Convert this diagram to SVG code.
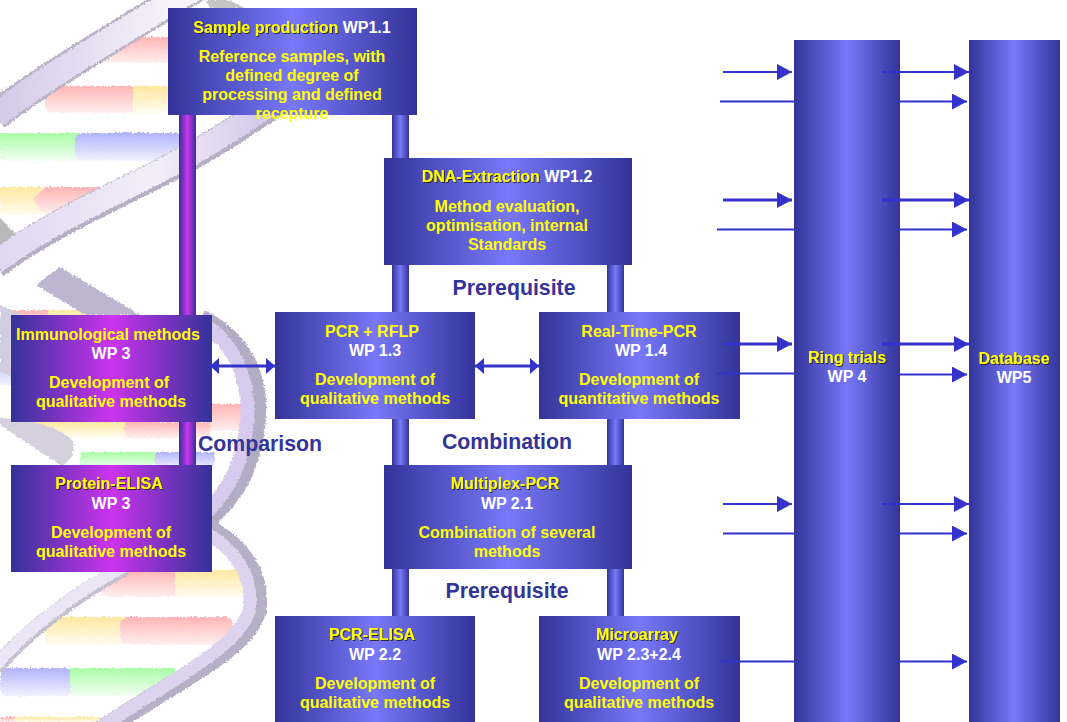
<svg xmlns="http://www.w3.org/2000/svg" width="1067" height="722" viewBox="0 0 1067 722">
<style>
text{font-family:"Liberation Sans",Arial,sans-serif;font-weight:bold;font-size:16px;text-anchor:middle}
.y{fill:#ffff00}.w{fill:#ffffff}.t{fill:#ffff00;filter:url(#sh)}
.lab{fill:#333399;font-size:21.3px}
.blue{fill:url(#gb)}.pur{fill:url(#gp)}
.ln{stroke:#3333cc;fill:none}
.r{fill:url(#fr)}.e{fill:url(#fy)}.g{fill:url(#fg)}.b{fill:url(#fb)}
</style>
<defs>
<linearGradient id="gb"><stop offset="0" stop-color="#333399"/><stop offset=".5" stop-color="#7878fa"/><stop offset="1" stop-color="#333399"/></linearGradient>
<linearGradient id="gp"><stop offset="0" stop-color="#333399"/><stop offset=".5" stop-color="#cc33ee"/><stop offset="1" stop-color="#333399"/></linearGradient>
<linearGradient id="fr" x1="0" y1="0" x2="0" y2="1"><stop offset="0" stop-color="#ffb4b4"/><stop offset="1" stop-color="#fff0f0"/></linearGradient>
<linearGradient id="fy" x1="0" y1="0" x2="0" y2="1"><stop offset="0" stop-color="#ffe8a0"/><stop offset="1" stop-color="#fffcf0"/></linearGradient>
<linearGradient id="fg" x1="0" y1="0" x2="0" y2="1"><stop offset="0" stop-color="#a8fca8"/><stop offset="1" stop-color="#f2fff2"/></linearGradient>
<linearGradient id="fb" x1="0" y1="0" x2="0" y2="1"><stop offset="0" stop-color="#b0b4fa"/><stop offset="1" stop-color="#f2f2ff"/></linearGradient>
<linearGradient id="s1" gradientUnits="userSpaceOnUse" x1="0" y1="0" x2="170" y2="0"><stop offset="0" stop-color="#d4cae8"/><stop offset="1" stop-color="#f6f3fb"/></linearGradient>
<linearGradient id="s2" gradientUnits="userSpaceOnUse" x1="0" y1="0" x2="260" y2="0"><stop offset="0" stop-color="#e0d8f0"/><stop offset=".6" stop-color="#f2eef9"/><stop offset="1" stop-color="#d6cbea"/></linearGradient>
<filter id="sh" x="-5%" y="-20%" width="110%" height="140%"><feDropShadow dx="1" dy="1" stdDeviation="0.3" flood-color="#222" flood-opacity=".85"/></filter>
<filter id="rough" x="-5%" y="-5%" width="110%" height="110%"><feTurbulence type="fractalNoise" baseFrequency=".5" numOctaves="2" seed="4"/><feDisplacementMap in="SourceGraphic" scale="4" xChannelSelector="R" yChannelSelector="G"/><feGaussianBlur stdDeviation=".5"/></filter>
<marker id="a" markerUnits="userSpaceOnUse" markerWidth="16" markerHeight="16" refX="15" refY="8" orient="auto"><path d="M0 0L15 8L0 16z" fill="#3333cc"/></marker>
<marker id="d" markerUnits="userSpaceOnUse" markerWidth="10" markerHeight="16" refX="9" refY="8" orient="auto-start-reverse"><path d="M0 0L9 8L0 16z" fill="#3333cc"/></marker>
</defs>

<g id="background">
<g filter="url(#rough)">
<rect x="100" y="37" width="75" height="26" class="r"/>
<rect x="45" y="86" width="93" height="27" rx="8" class="r"/><rect x="133" y="86" width="40" height="27" class="e"/>
<rect x="0" y="133" width="80" height="28" class="g"/><rect x="75" y="133" width="108" height="28" rx="8" class="b"/>
<rect x="0" y="187" width="42" height="28" class="e"/><path d="M33 200L45 187H108V215H45z" class="r"/>
<rect x="45" y="310" width="85" height="16" class="e"/><rect x="0" y="310" width="48" height="18" class="r"/>
<rect x="0" y="355" width="15" height="30" class="b"/>
<rect x="205" y="404" width="40" height="27" class="r"/><rect x="15" y="422" width="110" height="16" class="e"/><rect x="125" y="422" width="85" height="16" class="r"/>
<rect x="80" y="452" width="76" height="16" class="g"/><rect x="155" y="452" width="60" height="16" class="b"/>
<rect x="100" y="570" width="80" height="27" rx="8" class="r"/><rect x="175" y="570" width="68" height="27" class="e"/>
<rect x="45" y="617" width="82" height="28" class="e"/><rect x="120" y="617" width="113" height="28" rx="8" class="r"/>
<rect x="0" y="668" width="73" height="28" rx="8" class="b"/><rect x="70" y="668" width="105" height="28" class="g"/>
<rect x="0" y="717" width="15" height="5" class="r"/><rect x="15" y="717" width="85" height="5" class="e"/>
<path d="M0 218L18 236L0 250z" fill="#b9b9b9"/>
<path d="M36 285L60 267L140 315H85z" fill="#bdb6d0"/>
<path d="M205 0H228L245 8H210z" fill="#c4c4c4"/>
<path d="M0 305Q60 330 85 365T70 405Q40 395 0 370z" fill="#d2cde0"/>
<path d="M0 418Q50 420 72 440Q78 455 62 466Q30 445 0 425z" fill="#d4d0de"/>
<g fill="none">
<path d="M-5 116C30 88 95 48 215 -24" stroke="#b9b2c6" stroke-width="30"/>
<path d="M-5 116C30 88 95 48 215 -24" stroke="url(#s1)" stroke-width="25"/>
<path d="M-5 265C50 222 140 186 197 153S270 105 340 60" stroke="#b5aec4" stroke-width="28"/>
<path d="M-5 263C50 220 140 184 197 151S270 103 340 58" stroke="url(#s2)" stroke-width="23"/>
<path d="M200 320C240 340 258 375 255 420C250 470 232 495 205 520" stroke="#b3acc5" stroke-width="22"/>
<path d="M200 322C234 342 250 378 247 420C243 468 226 492 205 514" stroke="#d6cbec" stroke-width="14"/>
<path d="M205 528C240 545 262 575 256 612C245 650 175 680 90 738" stroke="#b6b0c6" stroke-width="20"/>
<path d="M203 532C236 548 254 578 249 611C238 648 170 680 85 738" stroke="#ddd3ef" stroke-width="13"/>
<path d="M-5 668C30 628 75 595 125 568" stroke="#c5bfcf" stroke-width="16"/>
<path d="M-5 666C30 626 75 593 125 566" stroke="#ebe6f5" stroke-width="12"/>
</g>
</g>
</g>

<g id="bars">
<rect x="179" y="115" width="17" height="200" class="pur"/><rect x="179" y="422" width="17" height="43" class="pur"/>
<rect x="392" y="115" width="17" height="43" class="blue"/><rect x="392" y="265" width="17" height="47" class="blue"/><rect x="392" y="419" width="17" height="46" class="blue"/><rect x="392" y="569" width="17" height="47" class="blue"/>
<rect x="607" y="265" width="17" height="47" class="blue"/><rect x="607" y="419" width="17" height="46" class="blue"/><rect x="607" y="569" width="17" height="47" class="blue"/>
</g>

<g id="node-sample"><rect x="168" y="8" width="249" height="107" class="blue"/>
<text x="292" y="33"><tspan class="t">Sample production</tspan><tspan class="w"> WP1.1</tspan></text>
<text x="292" y="62" class="y">Reference samples, with</text><text x="292" y="81" class="y">defined degree of</text><text x="292" y="100" class="y">processing and defined</text><text x="292" y="119" class="y">recepture</text></g>

<g id="node-dna"><rect x="384" y="158" width="248" height="107" class="blue"/>
<text x="507" y="182"><tspan class="t">DNA-Extraction</tspan><tspan class="w"> WP1.2</tspan></text>
<text x="507" y="212" class="y">Method evaluation,</text><text x="507" y="231" class="y">optimisation, internal</text><text x="507" y="250" class="y">Standards</text></g>

<g id="node-immuno"><rect x="11" y="315" width="201" height="107" class="pur"/>
<text x="108" y="340" class="y">Immunological methods</text><text x="111" y="359" class="w">WP 3</text>
<text x="109" y="388" class="y">Development of</text><text x="111" y="407" class="y">qualitative methods</text></g>

<g id="node-pcr-rflp"><rect x="275" y="312" width="200" height="107" class="blue"/>
<text x="372" y="337" class="y">PCR + RFLP</text><text x="375" y="356" class="w">WP 1.3</text>
<text x="375" y="385" class="y">Development of</text><text x="375" y="404" class="y">qualitative methods</text></g>

<g id="node-realtime"><rect x="539" y="312" width="201" height="107" class="blue"/>
<text x="639" y="337" class="y">Real-Time-PCR</text><text x="641" y="356" class="w">WP 1.4</text>
<text x="639" y="385" class="y">Development of</text><text x="639" y="404" class="y">quantitative methods</text></g>

<g id="node-elisa"><rect x="11" y="465" width="201" height="107" class="pur"/>
<text x="109" y="489" class="t">Protein-ELISA</text><text x="111" y="509" class="w">WP 3</text>
<text x="111" y="538" class="y">Development of</text><text x="111" y="557" class="y">qualitative methods</text></g>

<g id="node-multiplex"><rect x="384" y="465" width="248" height="104" class="blue"/>
<text x="505" y="489" class="t">Multiplex-PCR</text><text x="507" y="509" class="w">WP 2.1</text>
<text x="507" y="538" class="y">Combination of several</text><text x="507" y="557" class="y">methods</text></g>

<g id="node-pcr-elisa"><rect x="275" y="616" width="200" height="106" class="blue"/>
<text x="372" y="640" class="t">PCR-ELISA</text><text x="375" y="660" class="w">WP 2.2</text>
<text x="375" y="689" class="y">Development of</text><text x="375" y="708" class="y">qualitative methods</text></g>

<g id="node-microarray"><rect x="539" y="616" width="201" height="106" class="blue"/>
<text x="637" y="640" class="t">Microarray</text><text x="639" y="660" class="w">WP 2.3+2.4</text>
<text x="639" y="689" class="y">Development of</text><text x="639" y="708" class="y">qualitative methods</text></g>

<g id="node-ring"><rect x="794" y="40" width="106" height="682" class="blue"/>
<text x="847" y="363" class="t">Ring trials</text><text x="847" y="382" class="w">WP 4</text></g>

<g id="node-database"><rect x="969" y="40" width="91" height="682" class="blue"/>
<text x="1014" y="364" class="t">Database</text><text x="1014" y="383" class="w">WP5</text></g>

<g id="labels">
<text x="514" y="295" class="lab">Prerequisite</text>
<text x="260" y="451" class="lab">Comparison</text>
<text x="507" y="449" class="lab">Combination</text>
<text x="507" y="598" class="lab">Prerequisite</text>
</g>

<g id="connectors" class="ln">
<path d="M210 366H275" stroke-width="3" marker-start="url(#d)" marker-end="url(#d)"/>
<path d="M475 366H539" stroke-width="3" marker-start="url(#d)" marker-end="url(#d)"/>
<path d="M723 72H792" stroke-width="2" marker-end="url(#a)"/><path d="M882 72H969" stroke-width="2" marker-end="url(#a)"/>
<path d="M720 101.500H794" stroke-width="2"/><path d="M900 101.500H967" stroke-width="2" marker-end="url(#a)"/>
<path d="M723 200H792" stroke-width="3" marker-end="url(#a)"/><path d="M882 200H969" stroke-width="3" marker-end="url(#a)"/>
<path d="M717 229.500H794" stroke-width="2"/><path d="M900 229.500H967" stroke-width="2" marker-end="url(#a)"/>
<path d="M723 344H792" stroke-width="3" marker-end="url(#a)"/><path d="M882 344H969" stroke-width="3" marker-end="url(#a)"/>
<path d="M717 373.500H794" stroke-width="2"/><path d="M900 374.500H967" stroke-width="2" marker-end="url(#a)"/>
<path d="M723 504H792" stroke-width="2" marker-end="url(#a)"/><path d="M882 504H969" stroke-width="2" marker-end="url(#a)"/>
<path d="M723 533.500H794" stroke-width="2"/><path d="M900 533.500H967" stroke-width="2" marker-end="url(#a)"/>
<path d="M720 661.500H794" stroke-width="2"/><path d="M900 661.500H967" stroke-width="2" marker-end="url(#a)"/>
</g>
</svg>
